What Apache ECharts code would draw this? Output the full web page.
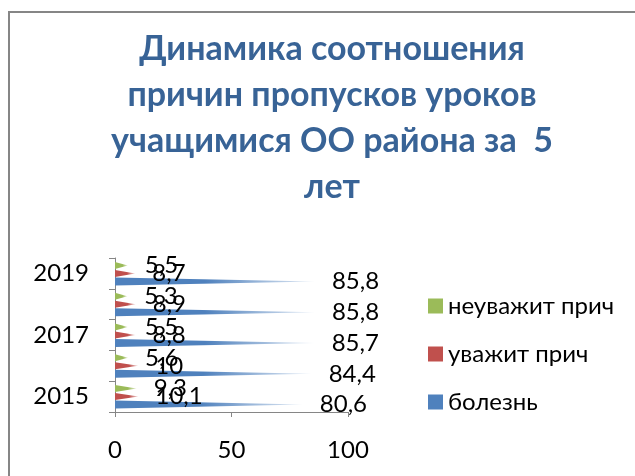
<!DOCTYPE html>
<html>
<head>
<meta charset="utf-8">
<script src="https://cdn.jsdelivr.net/npm/echarts@6/dist/echarts.min.js"></script>
<style>
  html, body { margin: 0; padding: 0; background: #fff; }
  #main { width: 635px; height: 476px; }
</style>
</head>
<body>
<div id="main"></div>
<script>
// данные
var years = ['2015', '2016', '2017', '2018', '2019'];
var illness = [80.6, 84.4, 85.7, 85.8, 85.8];     // болезнь
var excused = [10.1, 10, 8.8, 8.9, 8.7];          // уважит прич
var unexcused = [9.3, 5.6, 5.5, 5.3, 5.5];        // неуважит прич
var xTicks = [0, 50, 100];

var FONT = 'Lato';
var cone = 'path://M0,0L10,5L0,10Z';

function fmt(p) {
  return String(p.value).replace('.', ',');
}

function grad(c1, c2, stop) {
  return new echarts.graphic.LinearGradient(0, 0, 1, 0, [
    { offset: 0, color: c1 },
    { offset: stop, color: c1 },
    { offset: 1, color: c2 }
  ]);
}

function coneSeries(name, data, c1, c2, h, stop) {
  return {
    name: name,
    type: 'pictorialBar',
    symbol: cone,
    symbolSize: ['100%', h],
    symbolPosition: 'start',
    barWidth: 8,
    barGap: '0%',
    itemStyle: { color: grad(c1, c2, stop) },
    label: {
      show: true,
      position: 'right',
      distance: 17,
      formatter: fmt,
      fontFamily: FONT,
      fontSize: 24,
      color: '#000'
    },
    data: data
  };
}

var myChart = echarts.init(document.getElementById('main'));
var option = {
  backgroundColor: '#fff',
  animation: false,
  title: {
    text: 'Динамика соотношения\nпричин пропусков уроков\nучащимися ОО района за  5\nлет',
    left: 327,
    textAlign: 'center',
    top: 21,
    textStyle: {
      fontFamily: FONT,
      fontWeight: 'bold',
      fontSize: 34,
      lineHeight: 46,
      color: '#386396'
    }
  },
  legend: {
    orient: 'vertical',
    left: 423,
    top: 289,
    itemWidth: 15,
    itemHeight: 15,
    itemGap: 24,
    icon: 'rect',
    data: [
      { name: 'неуважит прич', itemStyle: { color: '#9BBB59' } },
      { name: 'уважит прич', itemStyle: { color: '#C0504D' } },
      { name: 'болезнь', itemStyle: { color: '#4F81BD' } }
    ],
    textStyle: { fontFamily: FONT, fontSize: 24, color: '#000' }
  },
  grid: { left: 115, right: 287, top: 258, bottom: 64 },
  xAxis: {
    type: 'value',
    min: 0,
    max: 100,
    interval: 50,
    splitLine: { show: false },
    axisLine: { show: true, lineStyle: { color: '#868686' } },
    axisTick: { show: true, length: 5, lineStyle: { color: '#868686' } },
    axisLabel: {
      margin: 26,
      fontFamily: FONT,
      fontSize: 24,
      color: '#000',
      formatter: function (v) { return xTicks.indexOf(v) >= 0 ? String(v) : ''; }
    }
  },
  yAxis: {
    type: 'category',
    data: years,
    axisLine: { show: true, lineStyle: { color: '#868686' } },
    axisTick: { show: true, interval: 0, length: 6, lineStyle: { color: '#868686' } },
    axisLabel: {
      interval: 1,
      margin: 26,
      fontFamily: FONT,
      fontSize: 24,
      color: '#000'
    }
  },
  graphic: [{
    type: 'rect',
    shape: { x: 9, y: 12, width: 700, height: 600 },
    style: { fill: 'none', stroke: '#868686', lineWidth: 2 },
    silent: true
  }],
  series: [
    coneSeries('неуважит прич', unexcused, '#9BBB59', '#E6EED5', 7, 0.6),
    coneSeries('уважит прич', excused, '#C0504D', '#F2DCDB', 7, 0.6),
    coneSeries('болезнь', illness, '#4F81BD', '#E4ECF6', 8, 0.45)
  ]
};
myChart.setOption(option);
</script>
</body>
</html>
